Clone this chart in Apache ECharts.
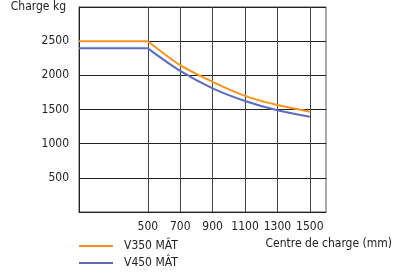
<!DOCTYPE html>
<html><head><meta charset="utf-8">
<script src="https://cdn.jsdelivr.net/npm/echarts@6/dist/echarts.min.js"></script>
<style>html,body{margin:0;padding:0;background:#fff}#c{width:396px;height:275px}</style>
</head><body><div id="c"></div>
<script>
const xTicks = [500, 700, 900, 1100, 1300, 1500];
const yTicks = [500, 1000, 1500, 2000, 2500];
const seriesNames = ['V350 MÂT', 'V450 MÂT'];
const v350Flat = [[75, 2500], [500, 2500]];
const v350Curve = [[500, 2500], [700, 2150], [900, 1905], [1100, 1700], [1300, 1565], [1500, 1468]];
const v450Flat = [[75, 2395], [500, 2395]];
const v450Curve = [[500, 2395], [700, 2065], [900, 1810], [1100, 1625], [1300, 1488], [1500, 1393]];

function hasFont(name) {
  const c = document.createElement('canvas').getContext('2d');
  const s = 'Charge kg 2500 V350';
  c.font = '20px monospace'; const a = c.measureText(s).width;
  c.font = '20px "' + name + '", monospace'; const b = c.measureText(s).width;
  return Math.abs(a - b) > 0.5;
}
const narrow = hasFont('Liberation Sans Narrow');
const FONT = narrow ? '"Liberation Sans Narrow", sans-serif' : '"DejaVu Sans Condensed", sans-serif';
const FS = narrow ? 14 : 12;
const C = '#222';
const chart = echarts.init(document.getElementById('c'));
const orange = '#f7941d', blue = '#5b6bbf';
chart.setOption({
  animation: false,
  textStyle: {fontFamily: FONT},
  grid: {left: 79, top: 7, width: 247, height: 205, show: true, borderColor: '#555', borderWidth: 1, containLabel: false},
  xAxis: {
    type: 'value', min: 75, max: 1600,
    axisLine: {show: true, lineStyle: {color: C, width: 1}},
    axisTick: {show: false, customValues: xTicks},
    axisLabel: {customValues: xTicks, interval: 0, hideOverlap: false, showMaxLabel: true, color: C, fontSize: FS, margin: 9, fontFamily: FONT, formatter: v => String(v)},
    splitLine: {show: true, lineStyle: {color: '#444', width: 1}},
    name: 'Centre de charge (mm)', nameLocation: 'end', nameGap: 0,
    nameTextStyle: {fontSize: FS, color: C, fontFamily: FONT, align: 'right', verticalAlign: 'top', padding: [26, -66, 0, 0]}
  },
  yAxis: {
    type: 'value', min: 0, max: 3000, interval: 500,
    axisLine: {show: true, lineStyle: {color: C, width: 1}},
    axisTick: {show: false},
    axisLabel: {customValues: yTicks, color: C, fontSize: FS, margin: 10, fontFamily: FONT, formatter: v => String(v)},
    splitLine: {show: true, lineStyle: {color: C, width: 1}},
    name: 'Charge kg', nameLocation: 'end', nameGap: 0,
    nameTextStyle: {fontSize: FS, color: C, fontFamily: FONT, align: 'right', verticalAlign: 'middle', padding: [0, 13, -16, 0]}
  },
  legend: {
    left: 79, top: 240, padding: 0, orient: 'vertical', itemWidth: 34, itemHeight: 2, itemGap: 5, icon: 'rect',
    textStyle: {fontSize: FS, color: C, fontFamily: FONT, padding: [0, 0, 0, 6]},
    data: seriesNames
  },
  series: [
    {name: seriesNames[0], type: 'line', data: v350Flat, showSymbol: false, lineStyle: {color: orange, width: 2}, itemStyle: {color: orange}},
    {name: seriesNames[0], type: 'line', data: v350Curve, smooth: 0.3, showSymbol: false, lineStyle: {color: orange, width: 2}, itemStyle: {color: orange}},
    {name: seriesNames[1], type: 'line', data: v450Flat, showSymbol: false, lineStyle: {color: blue, width: 2}, itemStyle: {color: blue}},
    {name: seriesNames[1], type: 'line', data: v450Curve, smooth: 0.3, showSymbol: false, lineStyle: {color: blue, width: 2}, itemStyle: {color: blue}}
  ]
});
</script></body></html>
